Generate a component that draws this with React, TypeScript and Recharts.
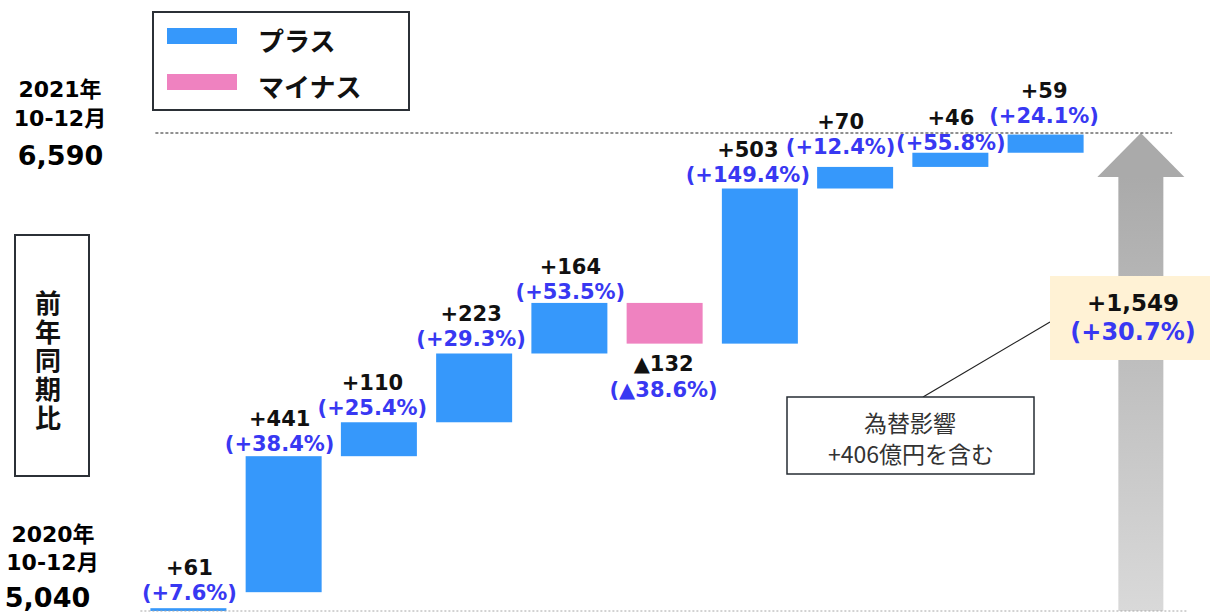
import React from 'react';
import { ComposedChart, Bar, XAxis, YAxis, ReferenceLine, Legend } from 'recharts';

// ---------- data ----------
const categories = ['項目1', '項目2', '項目3', '項目4', '項目5', '項目6', '項目7', '項目8', '項目9', '項目10', '合計'];
const deltas = [61, 441, 110, 223, 164, -132, 503, 70, 46, 59];
const deltaLabels = ['+61', '+441', '+110', '+223', '+164', '▲132', '+503', '+70', '+46', '+59'];
const pctLabels = ['(+7.6%)', '(+38.4%)', '(+25.4%)', '(+29.3%)', '(+53.5%)', '(▲38.6%)', '(+149.4%)', '(+12.4%)', '(+55.8%)', '(+24.1%)'];
const startValue = 5040;
const endValue = 6590;
const startPeriod = ['2020年', '10-12月'];
const endPeriod = ['2021年', '10-12月'];
const startValueLabel = '5,040';
const endValueLabel = '6,590';
const totalDeltaLabel = '+1,549';
const totalPctLabel = '(+30.7%)';
const legendNames = ['プラス', 'マイナス'];
const sideTitle = '前年同期比';
const noteLines = ['為替影響', '+406億円を含む'];

// ---------- styles / layout ----------
const PLUS = '#3698FB';
const MINUS = '#EF82C0';
const PCT = '#3838F2';
const LATIN = '"DejaVu Sans", "Noto Sans CJK JP", sans-serif';
const CJK = '"Noto Sans CJK JP", "DejaVu Sans", sans-serif';
// per-label nudges [dx, dy] (layout only)
const labelNudge: [number, number][] = [
  [1, 15], [-4, 1.5], [-6.5, 0], [-3, 0], [1, 3], [-1, 0], [-12, 0], [-14.5, -6], [0.5, 4], [-1.5, -5],
];
const maskedLabelIndex = 0;

let running = startValue;
const data = categories.map((name, i) => {
  if (i < deltas.length) {
    const lo = running;
    const hi = running + deltas[i];
    running = hi;
    return { name, range: [Math.min(lo, hi), Math.max(lo, hi)], kind: deltas[i] >= 0 ? 'plus' : 'minus', di: i };
  }
  return { name, range: [startValue, endValue], kind: 'total', di: i };
});

const WaterfallShape = (props: any) => {
  const { x, y, width, height, payload } = props;
  const cx = x + width / 2;
  if (payload.kind === 'total') {
    const headH = 44;
    const headHalf = 43.5;
    const shaftHalf = 22.5;
    return (
      <g>
        <defs>
          <linearGradient id="arrowShaft" x1="0" y1="0" x2="0" y2="1">
            <stop offset="0%" stopColor="#AAAAAA" />
            <stop offset="100%" stopColor="#D9D9D9" />
          </linearGradient>
        </defs>
        <rect x={cx - shaftHalf} y={y + headH} width={shaftHalf * 2} height={height - headH} fill="url(#arrowShaft)" />
        <polygon points={`${cx},${y} ${cx + headHalf},${y + headH} ${cx - headHalf},${y + headH}`} fill="#AAAAAA" />
      </g>
    );
  }
  const i = payload.di;
  const neg = payload.kind === 'minus';
  const [dx, dy] = labelNudge[i] || [0, 0];
  const vy = (neg ? y + height + 20 : y - 39) + dy;
  const py = (neg ? y + height + 46 : y - 14) + dy;
  return (
    <g>
      <rect x={x} y={y} width={width} height={height} fill={neg ? MINUS : PLUS} />
      {i === maskedLabelIndex && <rect x={cx - 50} y={py - 13} width={100} height={28} fill="#FFFFFF" />}
      <text x={cx + dx} y={vy} textAnchor="middle" dominantBaseline="central" fontFamily={LATIN} fontWeight="bold" fontSize={21} fill="#111">
        {deltaLabels[i]}
      </text>
      <text x={cx + dx} y={py} textAnchor="middle" dominantBaseline="central" fontFamily={LATIN} fontWeight="bold" fontSize={21} fill={PCT}>
        {pctLabels[i]}
      </text>
    </g>
  );
};

const LegendBox = () => (
  <div style={{ position: 'relative', width: 258, height: 100, border: '2px solid #2B3036', boxSizing: 'border-box', background: '#fff' }}>
    {legendNames.map((n, k) => (
      <div key={n} style={{ position: 'absolute', left: 13, top: 15 + k * 46, height: 16, width: 70, background: k === 0 ? PLUS : MINUS }} />
    ))}
    {legendNames.map((n, k) => (
      <div key={n + 't'} style={{ position: 'absolute', left: 104, top: 10 + k * 46, lineHeight: '34px', fontSize: 26, fontWeight: 'bold', fontFamily: CJK, color: '#111', whiteSpace: 'nowrap' }}>
        {n}
      </div>
    ))}
  </div>
);

export default function App() {
  const bold = { fontFamily: LATIN, fontWeight: 'bold' as const };
  return (
    <div style={{ position: 'absolute', left: 0, top: 0, width: 1210, height: 612, background: '#fff', overflow: 'hidden' }}>
      <ComposedChart width={1210} height={612} data={data} margin={{ top: 133, right: 21.9, bottom: 1, left: 140.4 }}>
        <XAxis dataKey="name" hide />
        <YAxis type="number" domain={[startValue, endValue]} hide />
        <ReferenceLine y={startValue} stroke="#A6A6A6" strokeDasharray="2 2" />
        <ReferenceLine
          y={endValue}
          stroke="#222"
          strokeDasharray="3 2"
          shape={(p: any) => (
            <line x1={p.x1 + 15} y1={p.y1} x2={p.x2 - 16} y2={p.y2} stroke="#222" strokeWidth={1} strokeDasharray="3 2" />
          )}
        />
        <Bar dataKey="range" barSize={76} isAnimationActive={false} shape={WaterfallShape} />
        <Legend
          layout="vertical"
          align="center"
          verticalAlign="middle"
          content={() => <LegendBox />}
          wrapperStyle={{ position: 'absolute', left: 152, top: 11, width: 258, height: 100 }}
        />
      </ComposedChart>
      <svg width={1210} height={612} style={{ position: 'absolute', left: 0, top: 0, pointerEvents: 'none' }}>
        {/* end period */}
        <text x={60} y={89} textAnchor="middle" dominantBaseline="central" fontSize={22} {...bold}>{endPeriod[0]}</text>
        <text x={60} y={118} textAnchor="middle" dominantBaseline="central" fontSize={22} {...bold}>{endPeriod[1]}</text>
        <text x={60.5} y={155} textAnchor="middle" dominantBaseline="central" fontSize={27} {...bold}>{endValueLabel}</text>
        {/* start period */}
        <text x={53} y={534} textAnchor="middle" dominantBaseline="central" fontSize={22} {...bold}>{startPeriod[0]}</text>
        <text x={52.5} y={562} textAnchor="middle" dominantBaseline="central" fontSize={22} {...bold}>{startPeriod[1]}</text>
        <text x={47.5} y={597} textAnchor="middle" dominantBaseline="central" fontSize={27} {...bold}>{startValueLabel}</text>
        {/* side title */}
        <rect x={15} y={235} width={74} height={241} fill="#fff" stroke="#2B3036" strokeWidth={2} />
        <text x={48} y={290} writingMode="vertical-rl" fontSize={26} letterSpacing={2.7} fontFamily={CJK} fontWeight="bold" fill="#111">
          {sideTitle}
        </text>
        {/* note */}
        <line x1={923} y1={397} x2={1050} y2={322} stroke="#222" strokeWidth={1.2} />
        <rect x={787} y={397} width={247} height={77} fill="#fff" stroke="#262C33" strokeWidth={1.5} />
        <text x={910} y={422} textAnchor="middle" dominantBaseline="central" fontSize={23} fontFamily={CJK} fill="#333">{noteLines[0]}</text>
        <text x={911} y={453} textAnchor="middle" dominantBaseline="central" fontSize={23} fontFamily={CJK} fill="#333">{noteLines[1]}</text>
        {/* total box */}
        <rect x={1050} y={276} width={160} height={84} fill="#FFF2D5" />
        <text x={1133} y={303} textAnchor="middle" dominantBaseline="central" fontSize={23} {...bold} fill="#111">{totalDeltaLabel}</text>
        <text x={1133} y={332} textAnchor="middle" dominantBaseline="central" fontSize={24} {...bold} fill={PCT}>{totalPctLabel}</text>
      </svg>
    </div>
  );
}
